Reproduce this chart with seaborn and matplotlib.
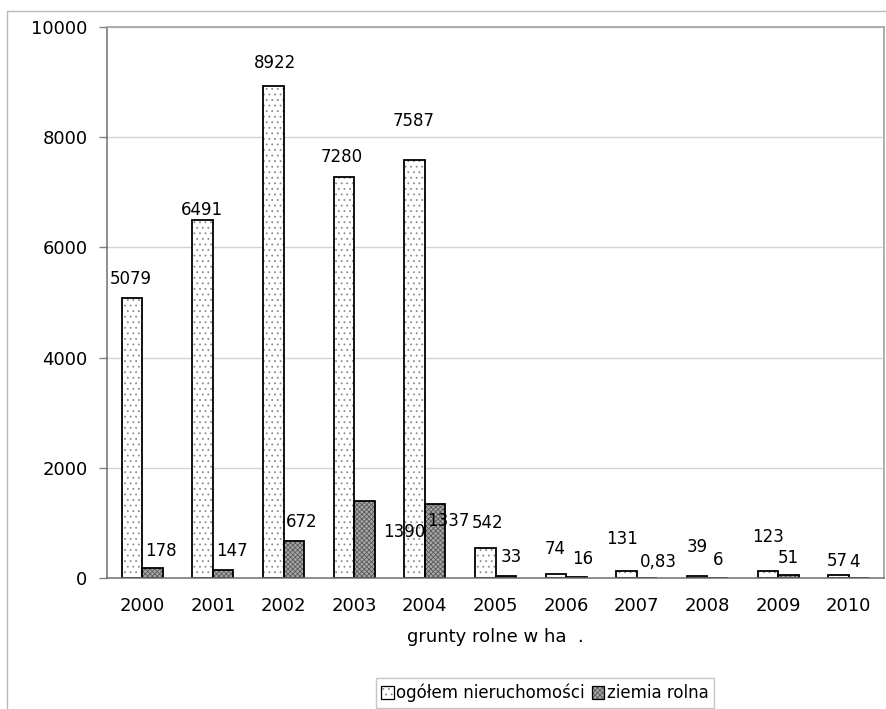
import numpy as np
import pandas as pd
import matplotlib
matplotlib.use("Agg")
import matplotlib.pyplot as plt
from matplotlib.patches import Patch, Rectangle
import seaborn as sns

# ---- data -------------------------------------------------------------
years = ["2000", "2001", "2002", "2003", "2004", "2005",
         "2006", "2007", "2008", "2009", "2010"]
ogolem = [5079, 6491, 8922, 7280, 7587, 542, 74, 131, 39, 123, 57]
ziemia = [178, 147, 672, 1390, 1337, 33, 16, 0.83, 6, 51, 4]
series_names = ["ogółem nieruchomości", "ziemia rolna"]
y_ticks = [0, 2000, 4000, 6000, 8000, 10000]
x_title = "grunty rolne w ha  ."

# label placement (pixel offsets of each value label from its bar top)
ogolem_off = [(-1, 19), (-1, 10), (2, 23), (-2, 20), (-1, 39), (2, 25),
              (-1, 25), (-4, 32), (0, 29), (0, 34), (-1, 14)]
ziemia_off = [(8, 17), (9, 19), (8, 19), (40, -31), (13, -17), (6, 19),
              (6, 18), (11, 16), (0, 18), (0, 17), (-4, 16)]

df = pd.DataFrame({
    "rok": years * 2,
    "wartosc": ogolem + ziemia,
    "seria": [series_names[0]] * len(years) + [series_names[1]] * len(years),
})

# ---- figure -----------------------------------------------------------
sns.set_style("white")
plt.rcParams["font.family"] = ["DejaVu Sans"]
plt.rcParams["hatch.linewidth"] = 0.6
plt.rcParams["text.color"] = "black"
plt.rcParams["axes.labelcolor"] = "black"
plt.rcParams["xtick.labelcolor"] = "black"
plt.rcParams["ytick.labelcolor"] = "black"
FS = 13
FS_LBL = 12

W, H = 886, 709
fig = plt.figure(figsize=(W / 100, H / 100), dpi=100)
ax = fig.add_axes([107 / W, (H - 578) / H, (884 - 107) / W, (578 - 27) / H])

# outer chart frame
fig.add_artist(Rectangle((7 / W, -0.1), 1.2, (H - 11) / H + 0.1,
                         transform=fig.transFigure, fill=False,
                         edgecolor="#b8b8b8", lw=1.0, clip_on=False))

sns.barplot(data=df, x="rok", y="wartosc", hue="seria", order=years,
            hue_order=series_names, width=0.58, gap=0, ax=ax,
            palette=["white", "#a4a4a4"], edgecolor="black", linewidth=1.3,
            legend=False, err_kws={"linewidth": 0})

# fill patterns: hatch drawn in a grey tone, outline added in black on top
styles = [dict(face="white", hatch="...", hc="#8c8c8c"),
          dict(face="#a8a8a8", hatch="xxxxxxx", hc="#5a5a5a")]

n = len(years)
for k, cont in enumerate(ax.containers):
    st = styles[k]
    for p in cont:
        p.set_facecolor(st["face"])
        p.set_edgecolor(st["hc"])
        p.set_linewidth(0)
        p.set_hatch(st["hatch"])
        ax.add_patch(Rectangle(p.get_xy(), p.get_width(), p.get_height(),
                               fill=False, edgecolor="black", lw=1.3,
                               zorder=p.get_zorder() + 0.1))
    vals = ogolem if k == 0 else ziemia
    offs = ogolem_off if k == 0 else ziemia_off
    for p, v, (dx, dy) in zip(cont, vals, offs):
        txt = f"{v:g}".replace(".", ",")
        ax.annotate(txt, (p.get_x() + p.get_width() / 2, p.get_height()),
                    xytext=(dx, dy), textcoords="offset pixels",
                    ha="center", va="center", fontsize=FS_LBL, color="black",
                    zorder=5)

# axes
ax.set_ylim(0, 10000)
ax.set_xlim(-0.5, n - 0.5)
ax.set_yticks(y_ticks)
ax.set_yticklabels([str(t) for t in y_ticks], fontsize=FS)
ax.set_xticks(range(n))
ax.set_xticklabels(years, fontsize=FS)
ax.set_xticks(np.arange(-0.5, n, 1), minor=True)
ax.tick_params(axis="x", which="major", length=0, pad=14, labelcolor="black")
ax.tick_params(axis="x", which="minor", length=5, width=1, color="#808080",
               direction="out")
ax.tick_params(axis="y", which="major", length=6, width=1, color="#808080",
               direction="out", pad=8, left=True, labelcolor="black")
ax.set_ylabel("")
ax.set_xlabel(x_title, fontsize=FS, labelpad=9, color="black")

ax.grid(axis="y", color="#d4d4d4", lw=1)
ax.set_axisbelow(True)
for s in ["top", "right"]:
    ax.spines[s].set_visible(True)
    ax.spines[s].set_color("#a8a8a8")
    ax.spines[s].set_linewidth(1.3)
ax.spines["left"].set_color("#707070")
ax.spines["bottom"].set_color("#707070")
ax.spines["left"].set_linewidth(1.1)
ax.spines["bottom"].set_linewidth(1.1)

# legend: hatched swatch with a black outline laid over it
handles = []
for st in styles:
    fillp = Patch(facecolor=st["face"], edgecolor=st["hc"], lw=0,
                  hatch=st["hatch"])
    edge = Patch(facecolor="none", edgecolor="black", lw=0.9)
    handles.append((fillp, edge))
leg = fig.legend(handles, series_names, loc="upper center",
                 bbox_to_anchor=(545 / W, 1 - 678 / H), ncol=2,
                 fontsize=12, frameon=True, fancybox=False,
                 edgecolor="#b8b8b8", handlelength=0.75, handleheight=0.75,
                 handletextpad=0.15, columnspacing=0.4, borderpad=0.35,
                 borderaxespad=0)
leg.get_frame().set_linewidth(1.0)
for t in leg.get_texts():
    t.set_color("black")

fig.savefig("out.png", dpi=100)
